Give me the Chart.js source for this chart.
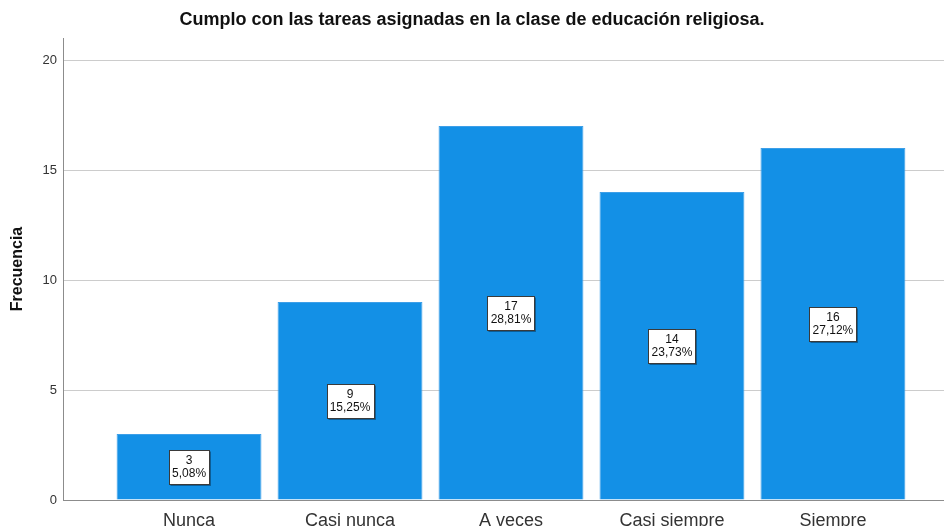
<!DOCTYPE html>
<html>
<head>
<meta charset="utf-8">
<script src="https://cdn.jsdelivr.net/npm/chart.js@4/dist/chart.umd.min.js"></script>
<style>
  html, body { margin: 0; padding: 0; background: #fff; }
  #wrap { width: 944px; height: 526px; position: relative; }
</style>
</head>
<body>
<div id="wrap"><canvas id="c" width="944" height="526"></canvas></div>
<script>
const categories = ["Nunca", "Casi nunca", "A veces", "Casi siempre", "Siempre"];
const frequencies = [3, 9, 17, 14, 16];
const percentLabels = ["5,08%", "15,25%", "28,81%", "23,73%", "27,12%"];
const yTicks = [0, 5, 10, 15, 20];
const titleText = "Cumplo con las tareas asignadas en la clase de educación religiosa.";
const yTitle = "Frecuencia";

const FONT = "'Liberation Sans', Arial, sans-serif";

const labelBoxes = {
  id: 'labelBoxes',
  afterDatasetsDraw(chart) {
    const ctx = chart.ctx;
    const meta = chart.getDatasetMeta(0);
    const yScale = chart.scales.y;
    ctx.save();
    ctx.font = "12px " + FONT;
    meta.data.forEach((el, i) => {
      const v = frequencies[i];
      const cy = yScale.getPixelForValue(v / 2);
      const l1 = String(v), l2 = percentLabels[i];
      const tw = Math.max(ctx.measureText(l1).width, ctx.measureText(l2).width);
      const w = Math.round(tw + 6), h = 34;
      const x0 = Math.round(el.x - w / 2) + 0.5, y0 = Math.round(cy - h / 2) + 0.5;
      ctx.fillStyle = '#ffffff';
      ctx.fillRect(x0, y0, w, h);
      ctx.strokeStyle = '#3a3a3a';
      ctx.lineWidth = 1;
      ctx.strokeRect(x0, y0, w, h);
      ctx.beginPath();
      ctx.moveTo(x0 + 1, y0 + h + 1);
      ctx.lineTo(x0 + w + 1, y0 + h + 1);
      ctx.lineTo(x0 + w + 1, y0 + 1);
      ctx.strokeStyle = 'rgba(0,0,0,0.35)';
      ctx.stroke();
      ctx.fillStyle = '#111';
      ctx.textAlign = 'center';
      ctx.textBaseline = 'middle';
      ctx.fillText(l1, el.x, y0 + 10);
      ctx.fillText(l2, el.x, y0 + 23);
    });
    ctx.restore();
  }
};

new Chart(document.getElementById('c'), {
  type: 'bar',
  data: {
    datasets: [{
      data: frequencies.map((v, i) => ({ x: i, y: v })),
      backgroundColor: '#1390e6',
      borderColor: '#3d9fe8',
      borderWidth: 1,
      borderSkipped: 'bottom',
      categoryPercentage: 1.0,
      barPercentage: 0.9
    }]
  },
  options: {
    responsive: false,
    animation: false,
    events: [],
    layout: { padding: { left: 0, right: 0, top: 0, bottom: 0 } },
    plugins: {
      legend: { display: false },
      tooltip: { enabled: false },
      title: {
        display: true,
        text: titleText,
        color: '#111',
        font: { family: FONT, size: 18, weight: 'bold' },
        padding: { top: 9, bottom: 7.4 }
      }
    },
    scales: {
      x: {
        type: 'linear',
        offset: false,
        min: -0.783,
        max: 4.69,
        afterBuildTicks(scale) { scale.ticks = categories.map((c, i) => ({ value: i })); },
        afterFit(scale) { scale.height = 26; },
        ticks: {
          autoSkip: false,
          maxRotation: 0,
          padding: 10,
          color: '#333',
          font: { family: FONT, size: 18 },
          callback: (v) => categories[v]
        },
        grid: { display: false, drawTicks: false, offset: false },
        border: { display: true, color: '#8c8c8c', width: 1 }
      },
      y: {
        min: 0,
        max: 21,
        afterBuildTicks(scale) { scale.ticks = yTicks.map(v => ({ value: v })); },
        afterFit(scale) { scale.width = 63; },
        ticks: {
          padding: 6,
          color: '#333',
          font: { family: FONT, size: 13 }
        },
        grid: { color: '#cccccc', lineWidth: 1, drawTicks: false },
        border: { display: true, color: '#8c8c8c', width: 1 },
        title: {
          display: true,
          text: yTitle,
          color: '#111',
          font: { family: FONT, size: 16, weight: 'bold' },
          padding: { top: 8, bottom: 0 }
        }
      }
    }
  },
  plugins: [labelBoxes]
});
</script>
</body>
</html>
